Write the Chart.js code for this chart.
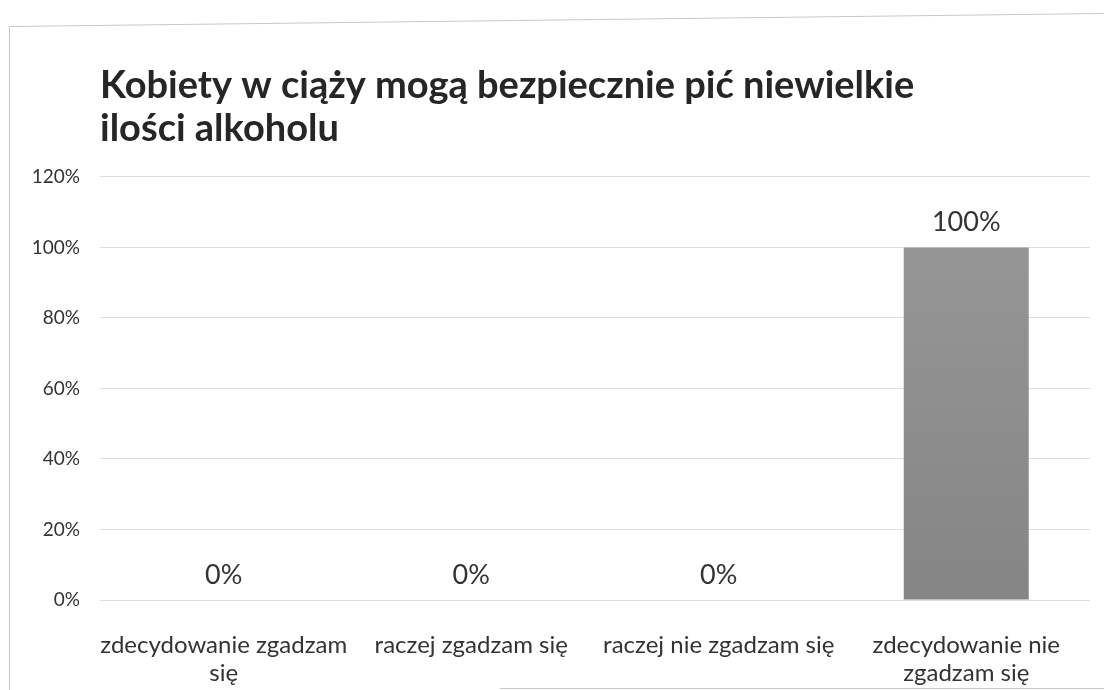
<!DOCTYPE html>
<html><head><meta charset="utf-8">
<script src="https://cdn.jsdelivr.net/npm/chart.js@4.4.1/dist/chart.umd.min.js"></script>
<style>html,body{margin:0;padding:0;background:#fff}#wrap{width:1104px;height:690px;position:relative}</style>
</head><body><div id="wrap"><canvas id="c" width="1104" height="690"></canvas></div>
<script>
const titleLines = ['Kobiety w ciąży mogą bezpiecznie pić niewielkie', 'ilości alkoholu'];
const categories = [['zdecydowanie zgadzam', 'się'], 'raczej zgadzam się', 'raczej nie zgadzam się', ['zdecydowanie nie', 'zgadzam się']];
const values = [0, 0, 0, 100];
const yTicks = [0, 20, 40, 60, 80, 100, 120];

const FONT = 'Lato, "Open Sans", sans-serif';

const frame = {
  id: 'frame',
  beforeDraw(chart) {
    const ctx = chart.ctx;
    ctx.save();
    ctx.strokeStyle = '#c8c8c8';
    ctx.lineWidth = 1;
    ctx.beginPath();
    ctx.moveTo(9.5, 690); ctx.lineTo(9.5, 26.5); ctx.lineTo(1104, 13.5);
    ctx.moveTo(500, 688.5); ctx.lineTo(1104, 688.5);
    ctx.stroke();
    ctx.restore();
  }
};

const valueLabels = {
  id: 'valueLabels',
  afterDatasetsDraw(chart) {
    const ctx = chart.ctx;
    const meta = chart.getDatasetMeta(0);
    ctx.save();
    ctx.font = '27px ' + FONT;
    ctx.fillStyle = '#333';
    ctx.textAlign = 'center';
    ctx.textBaseline = 'alphabetic';
    meta.data.forEach((el, i) => {
      ctx.fillText(values[i] + '%', el.x, el.y - 16);
    });
    ctx.restore();
  }
};

function barFill(context) {
  const chart = context.chart;
  const area = chart.chartArea;
  if (!area) return '#8c8c8c';
  const g = chart.ctx.createLinearGradient(0, area.top, 0, area.bottom);
  g.addColorStop(0, '#999999');
  g.addColorStop(1, '#858585');
  return g;
}

new Chart(document.getElementById('c'), {
  type: 'bar',
  data: {
    labels: categories,
    datasets: [{
      data: values,
      backgroundColor: barFill,
      borderWidth: 0,
      barPercentage: 0.505,
      categoryPercentage: 1
    }]
  },
  options: {
    responsive: false,
    animation: false,
    layout: { padding: { left: 0, right: 14, top: 0, bottom: 0 } },
    plugins: {
      legend: { display: false },
      tooltip: { enabled: false },
      title: {
        display: true,
        text: titleLines,
        align: 'start',
        fullSize: false,
        color: '#262626',
        font: { family: FONT, size: 38, weight: 'bold', lineHeight: 1.13 },
        padding: { top: 64, bottom: 27 }
      }
    },
    scales: {
      y: {
        min: 0, max: 120,
        afterBuildTicks(scale) { scale.ticks = yTicks.map(v => ({ value: v })); },
        afterFit(scale) { scale.width = 100; },
        border: { display: false },
        grid: { color: '#dedede', drawTicks: false },
        ticks: {
          padding: 20,
          color: '#333',
          font: { family: FONT, size: 19 },
          callback: v => v + '%'
        }
      },
      x: {
        afterFit(scale) { scale.height = 90; },
        border: { display: false },
        grid: { display: false, drawTicks: false },
        ticks: {
          padding: 31,
          color: '#333',
          maxRotation: 0,
          autoSkip: false,
          font: { family: FONT, size: 24, lineHeight: 1.17 }
        }
      }
    }
  },
  plugins: [frame, valueLabels]
});
</script>
</body></html>
